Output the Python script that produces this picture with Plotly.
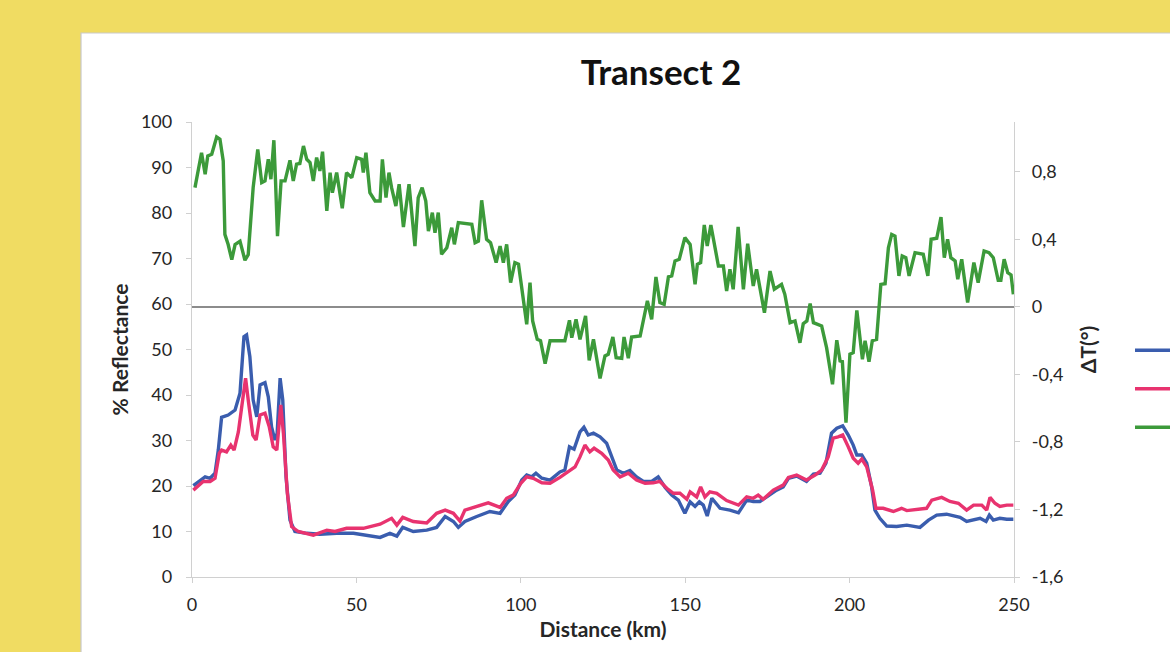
import plotly.graph_objects as go

# Distance along the transect (km) and values for each series
blue_km = [0.4, 4.0, 5.5, 7.0, 8.0, 9.0, 11.0, 13.1, 14.6, 15.8, 16.6, 17.6, 18.6, 19.7, 20.7,
           22.2, 23.2, 24.2, 25.2, 25.9, 26.8, 27.6, 28.6, 29.8, 31.3, 34.9, 38.9, 44.0, 49.1,
           53.1, 57.2, 60.2, 62.3, 64.1, 67.3, 71.4, 74.4, 77.0, 79.5, 81.0, 83.0, 86.6, 90.6,
           93.7, 96.2, 98.2, 100.3, 101.8, 103.3, 104.6, 106.4, 108.9, 111.9, 113.4, 114.8,
           116.2, 118.0, 119.2, 120.5, 122.1, 124.1, 126.1, 127.6, 129.2, 131.2, 133.2, 135.2,
           137.3, 139.8, 141.8, 143.9, 145.9, 147.9, 149.9, 151.5, 153.0, 154.3, 155.5, 156.7,
           158.1, 160.6, 163.6, 166.2, 168.7, 170.7, 172.7, 174.8, 177.8, 179.8, 181.4, 183.9,
           186.9, 189.0, 191.0, 192.8, 194.5, 196.1, 197.9, 199.6, 201.1, 202.2, 203.7, 205.2,
           206.7, 207.7, 209.2, 211.3, 214.3, 217.4, 221.4, 224.0, 226.5, 229.5, 231.5, 233.6,
           235.6, 237.7, 239.7, 241.5, 242.5, 243.7, 245.7, 247.8, 249.8]
blue_refl = [20.1, 22.0, 21.7, 22.8, 27.9, 35.1, 35.6, 36.7, 40.4, 52.8, 53.2, 48.4, 38.9, 35.2,
             42.2, 42.7, 39.6, 33.0, 30.1, 31.6, 43.7, 38.9, 22.0, 12.5, 10.0, 9.6, 9.4, 9.6, 9.6,
             9.2, 8.7, 9.6, 9.0, 10.9, 10.0, 10.3, 10.9, 13.3, 12.2, 10.9, 12.2, 13.3, 14.4,
             14.0, 16.6, 18.0, 21.3, 22.4, 22.0, 22.8, 21.7, 21.3, 23.1, 23.5, 28.6,
             28.1, 31.9, 32.9, 31.2, 31.6, 30.8, 29.4, 26.4, 23.5, 22.8, 23.4, 22.0,
             21.0, 21.0, 22.0, 19.7, 18.0, 16.9, 14.0, 16.5, 15.5, 16.5, 15.8, 13.4,
             17.3, 15.1, 14.7, 14.1, 16.9, 16.6, 16.6, 17.6, 19.1, 19.8, 21.7, 22.2,
             21.0, 22.6, 22.8, 25.0, 31.6, 32.7, 33.2, 31.2, 29.0, 26.8, 26.8, 25.0,
             19.8, 14.7, 12.9, 11.2, 11.1, 11.4, 10.9, 12.5, 13.6, 13.8, 13.4, 13.1,
             12.2, 12.5, 12.9, 12.2, 13.6, 12.5, 12.9, 12.7, 12.7]

red_km = [0.4, 3.4, 5.5, 7.0, 8.3, 9.0, 10.5, 11.8, 12.8, 14.1, 15.4, 16.3, 17.1, 18.5, 19.5,
          20.7, 22.2, 23.5, 24.7, 25.8, 27.0, 27.8, 29.0, 30.3, 32.3, 36.9, 41.0, 43.5, 47.0,
          52.1, 57.2, 60.7, 62.3, 64.1, 67.3, 71.4, 74.4, 77.0, 79.5, 81.5, 83.0, 86.6, 90.1,
          93.7, 95.7, 97.7, 100.0, 101.8, 103.8, 106.4, 108.9, 111.9, 115.0, 116.5, 118.0,
          119.5, 121.0, 122.3, 124.6, 126.6, 128.1, 130.2, 132.7, 135.2, 137.8, 140.3, 142.3,
          144.4, 146.4, 148.4, 150.5, 151.5, 153.5, 154.7, 156.0, 157.5, 159.6, 162.6, 166.2,
          168.7, 170.7, 172.2, 173.7, 176.8, 179.8, 181.4, 183.9, 186.9, 189.5, 191.5, 193.5,
          195.0, 196.5, 197.9, 199.6, 201.1, 202.6, 203.7, 205.2, 207.0, 208.0, 210.2, 213.3,
          215.8, 217.4, 221.4, 223.4, 225.0, 228.0, 230.5, 233.1, 235.6, 237.7, 240.2, 241.7,
          242.7, 244.2, 245.7, 247.8, 249.8]
red_refl = [19.1, 21.0, 21.0, 21.7, 27.2, 27.9, 27.5, 29.0, 27.9, 31.9, 38.9, 43.7, 38.9, 31.2,
            30.1, 35.6, 36.0, 33.0, 28.6, 27.9, 37.8, 31.6, 18.4, 11.1, 10.0, 9.2, 10.3, 10.0,
            10.7, 10.7, 11.6, 12.9, 11.4, 13.1, 12.2, 11.9, 14.0, 14.7, 14.0, 12.3, 14.7, 15.6,
            16.3, 15.3, 17.3, 18.0, 20.6, 22.0, 21.7, 20.7, 20.6, 21.9, 23.5, 24.2, 26.4,
            29.0, 27.5, 28.3, 27.2, 25.7, 23.5, 22.0, 22.8, 21.3, 20.6, 20.7, 21.0,
            19.5, 18.4, 18.4, 17.1, 18.7, 17.6, 19.8, 17.6, 18.7, 18.4, 16.8, 15.8,
            17.6, 17.3, 18.0, 17.1, 19.1, 20.2, 21.9, 22.4, 21.3, 22.4, 23.5, 26.4,
            30.5, 30.8, 31.2, 28.6, 26.1, 25.0, 25.9, 24.2, 19.1, 15.1, 15.1, 14.4,
            15.1, 14.6, 14.9, 15.1, 16.9, 17.5, 16.6, 16.2, 14.7, 15.8, 15.8, 14.7,
            17.5, 16.2, 15.5, 15.8, 15.8]

green_km = [0.9, 2.9, 4.0, 4.8, 6.0, 7.5, 8.5, 9.5, 10.0, 11.0, 12.1, 13.1, 14.6, 16.1, 17.1,
            18.6, 20.0, 21.2, 22.2, 23.2, 24.0, 24.9, 25.4, 26.0, 27.1, 28.3, 29.8, 30.8, 31.8,
            32.8, 33.9, 34.9, 35.9, 36.9, 37.9, 38.9, 39.7, 41.0, 42.0, 42.7, 44.0, 45.7, 47.0,
            48.6, 50.1, 51.6, 52.1, 52.9, 54.1, 55.7, 57.2, 57.9, 59.0, 59.9, 60.7, 62.0, 63.0,
            64.3, 66.0, 67.8, 68.8, 70.0, 71.1, 71.9, 73.1, 73.9, 74.9, 75.9, 77.5, 79.0, 79.8,
            81.0, 85.1, 86.1, 87.1, 88.1, 89.6, 90.8, 92.5, 93.7, 94.7, 95.7, 96.9, 98.2, 99.3,
            100.3, 101.8, 102.8, 103.6, 105.0, 106.0, 107.4, 108.9, 113.4, 114.8, 115.5, 116.8,
            118.0, 119.7, 120.8, 122.1, 124.1, 125.6, 126.6, 128.0, 129.0, 130.7, 131.4, 132.7,
            133.7, 136.3, 138.5, 139.8, 141.1, 142.3, 143.6, 144.9, 145.9, 146.9, 148.2, 149.9,
            151.5, 153.0, 153.7, 154.7, 155.8, 156.7, 157.8, 159.1, 160.1, 161.6, 162.6, 163.6,
            164.6, 166.1, 167.7, 169.0, 170.7, 171.7, 172.7, 174.1, 175.8, 177.1, 179.3, 180.3,
            181.9, 183.4, 184.9, 185.9, 187.0, 188.0, 189.0, 191.5, 193.0, 194.8, 196.1, 197.1,
            197.8, 198.9, 200.1, 201.1, 202.2, 203.9, 204.7, 205.9, 206.9, 208.2, 209.5, 210.8,
            211.8, 212.8, 213.8, 215.0, 216.0, 217.1, 218.1, 219.9, 222.4, 223.8, 224.8, 226.5,
            227.8, 228.8, 229.8, 230.8, 232.1, 232.9, 234.1, 235.9, 237.8, 239.1, 240.9, 242.4,
            243.7, 245.2, 246.0, 247.0, 248.1, 249.1, 249.8]
green_dt = [0.707, 0.914, 0.786, 0.895, 0.905, 1.007, 0.994, 0.865, 0.43, 0.37, 0.28, 0.37,
            0.39, 0.277, 0.31, 0.707, 0.934, 0.737, 0.747, 0.875, 0.757, 0.988, 0.747, 0.42,
            0.747, 0.747, 0.869, 0.747, 0.846, 0.85, 0.954, 0.875, 0.855, 0.747, 0.885, 0.806,
            0.92, 0.569, 0.796, 0.677, 0.796, 0.585, 0.796, 0.766, 0.885, 0.875, 0.796, 0.914,
            0.677, 0.628, 0.628, 0.875, 0.648, 0.796, 0.707, 0.598, 0.727, 0.474, 0.727, 0.361,
            0.648, 0.707, 0.628, 0.45, 0.559, 0.44, 0.559, 0.312, 0.351, 0.47, 0.371,
            0.5, 0.49, 0.381, 0.39, 0.632, 0.401, 0.381, 0.263, 0.361, 0.263, 0.371, 0.144,
            0.263, 0.253, 0.115, -0.103, 0.144, -0.083, -0.192, -0.2, -0.336, -0.2, -0.2,
            -0.079, -0.182, -0.073, -0.192, -0.053, -0.316, -0.192, -0.423, -0.29, -0.28,
            -0.178, -0.3, -0.304, -0.178, -0.304, -0.178, -0.172, 0.036, -0.073, 0.178, 0.026,
            0.016, 0.178, 0.184, 0.273, 0.283, 0.411, 0.371, 0.134, 0.253, 0.263, 0.486, 0.361,
            0.486, 0.351, 0.243, 0.243, 0.095, 0.223, 0.105, 0.474, 0.105, 0.375, 0.124, 0.223,
            0.115, -0.034, 0.213, 0.105, 0.134, 0.075, -0.093, -0.083, -0.212, -0.099, -0.083,
            0.02, -0.093, -0.113, -0.241, -0.458, -0.197, -0.32, -0.324, -0.686, -0.28, -0.271,
            -0.02, -0.31, -0.2, -0.324, -0.2, -0.192, 0.134, 0.138, 0.351, 0.43, 0.42, 0.184,
            0.302, 0.292, 0.184, 0.322, 0.312, 0.184, 0.401, 0.407, 0.533, 0.292, 0.401, 0.292,
            0.273, 0.164, 0.283, 0.026, 0.263, 0.144, 0.332, 0.322, 0.292, 0.158, 0.158, 0.283,
            0.203, 0.19, 0.075]

x_ticks = [0, 50, 100, 150, 200, 250]
refl_ticks = list(range(0, 101, 10))
dt_ticks = [-1.6, -1.2, -0.8, -0.4, 0, 0.4, 0.8]
dt_tick_text = ["-1,6", "-1,2", "-0,8", "-0,4", "0", "0,4", "0,8"]

FONT = "Lato, 'Open Sans', sans-serif"
AXIS_GREY = "#d0d0d0"
TEXT = "#262626"
TICK_SIZE = 18
AXIS_TITLE_SIZE = 21

fig = go.Figure()
fig.add_trace(go.Scatter(x=blue_km, y=blue_refl, mode="lines", name="Reflectance (A)",
                         line=dict(color="#3a5dae", width=3.4), legendgroup="a"))
fig.add_trace(go.Scatter(x=red_km, y=red_refl, mode="lines", name="Reflectance (B)",
                         line=dict(color="#e8336f", width=3.4), legendgroup="b"))
fig.add_trace(go.Scatter(x=green_km, y=green_dt, mode="lines", name="ΔT",
                         line=dict(color="#3c9a3a", width=3.4), yaxis="y2", legendgroup="c"))

L, R, T, B = 192, 156, 122, 75
W, H = 1170, 652
pw, ph = W - L - R, H - T - B

def px_to_paper_x(px):
    return (px - L) / pw

def px_to_paper_y(py):
    return (H - B - py) / ph

# white card behind the chart
fig.add_shape(type="rect", xref="paper", yref="paper", layer="below",
              x0=px_to_paper_x(81), x1=px_to_paper_x(1200),
              y0=px_to_paper_y(680), y1=px_to_paper_y(33),
              fillcolor="white", line=dict(color="#c9c9c9", width=1.2))

fig.update_layout(
    width=W, height=H,
    margin=dict(l=L, r=R, t=T, b=B, autoexpand=False),
    paper_bgcolor="#f0dc62",
    plot_bgcolor="white",
    font=dict(family=FONT, color=TEXT, size=TICK_SIZE),
    title=dict(text="<b>Transect 2</b>", x=px_to_paper_x(661), xref="paper", xanchor="center",
               y=1 - 73 / H, yref="container", yanchor="middle",
               font=dict(size=35, color="#111111", family=FONT)),
    xaxis=dict(range=[0, 250], tickvals=x_ticks, showgrid=False, zeroline=False,
               showline=True, linecolor=AXIS_GREY, linewidth=1.3,
               ticks="outside", ticklen=5, tickcolor=AXIS_GREY, ticklabelstandoff=6,
               tickfont=dict(size=TICK_SIZE, color=TEXT),
               title=dict(text="<b>Distance (km)</b>", font=dict(size=AXIS_TITLE_SIZE, color=TEXT),
                          standoff=8)),
    yaxis=dict(range=[0, 100], tickvals=refl_ticks, showgrid=False, zeroline=False,
               showline=True, linecolor=AXIS_GREY, linewidth=1.3,
               ticks="outside", ticklen=5, tickcolor=AXIS_GREY, ticklabelstandoff=10,
               tickfont=dict(size=TICK_SIZE, color=TEXT),
               title=dict(text="<b>% Reflectance</b>", font=dict(size=AXIS_TITLE_SIZE, color=TEXT),
                          standoff=6)),
    yaxis2=dict(range=[-1.6, 1.096], overlaying="y", side="right", tickvals=dt_ticks,
                ticktext=dt_tick_text, showgrid=False,
                zeroline=True, zerolinecolor="#8c8c8c", zerolinewidth=2.4,
                showline=True, linecolor=AXIS_GREY, linewidth=1.3,
                ticks="outside", ticklen=5, tickcolor=AXIS_GREY, ticklabelstandoff=8,
                tickfont=dict(size=TICK_SIZE, color=TEXT),
                title=dict(text="<b>ΔT(°)</b>", font=dict(size=AXIS_TITLE_SIZE, color=TEXT),
                           standoff=18)),
    legend=dict(x=px_to_paper_x(1130), xanchor="left", y=px_to_paper_y(334), yanchor="top",
                bgcolor="rgba(0,0,0,0)", font=dict(size=15, color=TEXT), itemwidth=45,
                traceorder="grouped", tracegroupgap=16),
    showlegend=True,
)

fig.write_html("out.html")
